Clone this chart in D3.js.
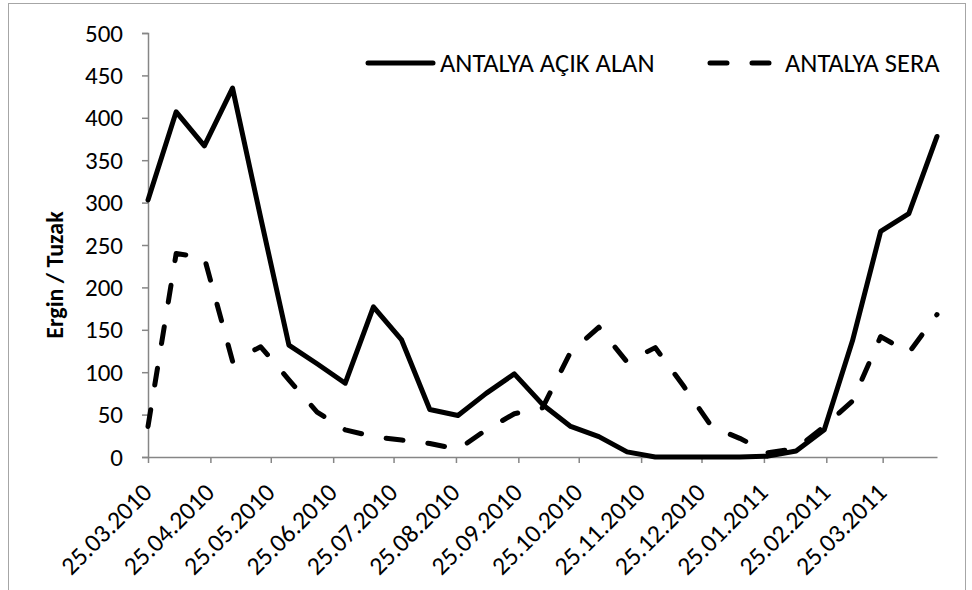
<!DOCTYPE html>
<html>
<head>
<meta charset="utf-8">
<script src="https://cdn.jsdelivr.net/npm/d3@7"></script>
<style>
  html, body { margin: 0; padding: 0; background: #fff; }
  svg { display: block; }
  text { font-family: Carlito, Calibri, Lato, sans-serif; fill: #000; }
</style>
</head>
<body>
<svg id="chart" width="972" height="590"></svg>
<script>
// Sampling dates (every two weeks)
const sampleDates = [
  "25.03.2010", "08.04.2010", "22.04.2010", "06.05.2010", "20.05.2010",
  "03.06.2010", "17.06.2010", "01.07.2010", "15.07.2010", "29.07.2010",
  "12.08.2010", "26.08.2010", "09.09.2010", "23.09.2010", "07.10.2010",
  "21.10.2010", "04.11.2010", "18.11.2010", "02.12.2010", "16.12.2010",
  "30.12.2010", "13.01.2011", "27.01.2011", "10.02.2011", "24.02.2011",
  "10.03.2011", "24.03.2011", "07.04.2011", "21.04.2011"
];

// Adults per trap
const acikAlan = [
  303, 407, 367, 435, 282, 132, 110, 87, 177, 138,
  56, 49, 75, 98, 62, 36, 24, 6, 0, 0,
  0, 0, 1, 7, 32, 137, 266, 287, 378
];
const sera = [
  36, 240, 235, 113, 130, 91, 53, 32, 24, 20,
  16, 9, 32, 51, 58, 124, 153, 112, 129, 84,
  36, 22, 5, 10, 36, 66, 142, 123, 168
];

const seriesNames = ["ANTALYA AÇIK ALAN", "ANTALYA SERA"];
const xTickLabels = [
  "25.03.2010", "25.04.2010", "25.05.2010", "25.06.2010", "25.07.2010",
  "25.08.2010", "25.09.2010", "25.10.2010", "25.11.2010", "25.12.2010",
  "25.01.2011", "25.02.2011", "25.03.2011"
];
const yTicks = [0, 50, 100, 150, 200, 250, 300, 350, 400, 450, 500];
const yTitle = "Ergin / Tuzak";

const parse = d3.utcParse("%d.%m.%Y");
const fmt = d3.utcFormat("%d.%m.%Y");
const dates = sampleDates.map(parse);

const svg = d3.select("#chart");
const plot = { left: 148, right: 937, top: 33, bottom: 457 };
const axisColor = "#868686";

// outer chart frame
svg.append("rect")
  .attr("x", 8.5).attr("y", 3.5)
  .attr("width", 957).attr("height", 640)
  .attr("fill", "none").attr("stroke", "#a6a6a6").attr("stroke-width", 1);

const x = d3.scaleUtc()
  .domain([dates[0], dates[dates.length - 1]])
  .range([plot.left, plot.right]);
const y = d3.scaleLinear().domain([0, 500]).range([plot.bottom, plot.top]);

// y axis
const yAxis = svg.append("g")
  .attr("transform", `translate(${plot.left},0)`)
  .call(d3.axisLeft(y).tickValues(yTicks).tickSize(6).tickPadding(19));
yAxis.select(".domain").attr("stroke", axisColor).attr("stroke-width", 1.5);
yAxis.selectAll(".tick line").attr("stroke", axisColor).attr("stroke-width", 1.5);
yAxis.selectAll(".tick text")
  .attr("font-family", null).attr("font-size", 25).attr("fill", "#000");

// x axis (date axis, monthly ticks)
const xAxis = svg.append("g")
  .attr("transform", `translate(0,${plot.bottom})`)
  .call(d3.axisBottom(x)
    .tickValues(xTickLabels.map(parse))
    .tickFormat(fmt)
    .tickSize(6).tickSizeOuter(0));
xAxis.select(".domain").attr("stroke", axisColor).attr("stroke-width", 1.5);
xAxis.selectAll(".tick line").attr("stroke", axisColor).attr("stroke-width", 1.5);
xAxis.selectAll(".tick text")
  .attr("font-family", null).attr("font-size", 25.5).attr("fill", "#000")
  .attr("text-anchor", "end")
  .attr("dy", null).attr("y", 0)
  .attr("transform", "translate(5,37) rotate(-45)");

// y axis title
svg.append("text")
  .attr("transform", "translate(63,275) rotate(-90)")
  .attr("text-anchor", "middle")
  .attr("font-size", 24)
  .attr("font-weight", "bold")
  .text(yTitle);

// series lines
const line = d3.line()
  .x((d, i) => x(dates[i]))
  .y(d => y(d));

svg.append("path")
  .datum(acikAlan)
  .attr("d", line)
  .attr("fill", "none").attr("stroke", "#000")
  .attr("stroke-width", 5).attr("stroke-linejoin", "round").attr("stroke-linecap", "round");

svg.append("path")
  .datum(sera)
  .attr("d", line)
  .attr("fill", "none").attr("stroke", "#000")
  .attr("stroke-width", 5).attr("stroke-linejoin", "round").attr("stroke-linecap", "round")
  .attr("stroke-dasharray", "17,25");

// legend
const legend = svg.append("g");
const legendItems = [
  { name: seriesNames[0], x1: 368, x2: 433, dash: null, tx: 440 },
  { name: seriesNames[1], x1: 710, x2: 772, dash: "17,25", tx: 785 }
];
legendItems.forEach(it => {
  legend.append("line")
    .attr("x1", it.x1).attr("x2", it.x2).attr("y1", 63).attr("y2", 63)
    .attr("stroke", "#000").attr("stroke-width", 5).attr("stroke-linecap", "round")
    .attr("stroke-dasharray", it.dash);
  legend.append("text")
    .attr("x", it.tx).attr("y", 72)
    .attr("font-size", 26.5)
    .text(it.name);
});
</script>
</body>
</html>
